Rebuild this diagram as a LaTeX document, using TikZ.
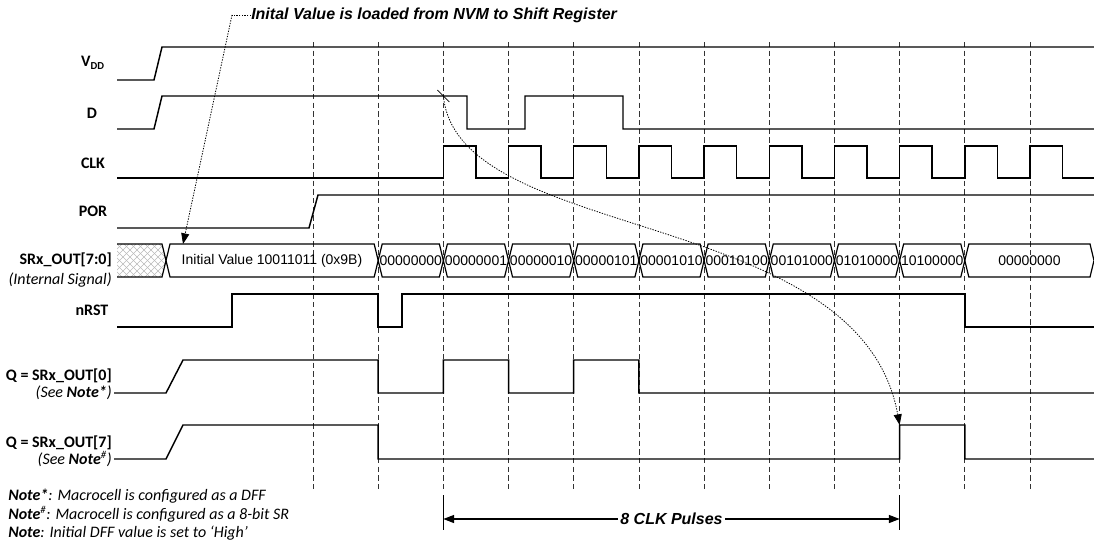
\documentclass[tikz,border=0pt]{standalone}
\usepackage{fontspec}
\setmainfont{Carlito}
\newfontfamily\arialfont{Liberation Sans}
\usetikzlibrary{arrows.meta}

\newcommand\twelve{\fontsize{12}{14}\selectfont}

\tikzset{
  wave/.style={line width=1.1pt},
  gridline/.style={line width=0.55pt, black!80, dash pattern=on 4pt off 2.5pt},
  bus/.style={line width=0.9pt},
  hatch/.style={line width=0.5pt, gray!55},
  lbl/.style={font=\twelve\bfseries, inner sep=0pt},
  sublbl/.style={font=\twelve\itshape, inner sep=0pt},
  busval/.style={font=\arialfont\fontsize{10.5}{12}\selectfont, inner sep=0pt},
  headline/.style={font=\arialfont\twelve\bfseries\itshape, inner sep=0pt},
  notetext/.style={font=\twelve\itshape, inner sep=0pt, anchor=west},
  leader/.style={line width=0.6pt, dash pattern=on 1pt off 1pt},
  dimline/.style={line width=0.8pt},
}

\begin{document}
\begin{tikzpicture}[x=0.75pt, y=-0.75pt, line join=miter,
    >={Triangle[length=8pt,width=6pt]}]
  \def\xo{313} \def\T{65.18}
  \def\bt{244} \def\bb{277} \def\bm{260.5}
  \useasboundingbox (0,0) rectangle (1094,546);

  % clock grid
  \foreach \k in {0,...,11}
    \draw[gridline] ({\xo+\T*\k},42) -- ({\xo+\T*\k},490);

  % signal names
  \node[lbl] (vdd) at (93,63) {V\textsubscript{DD}};
  \node[lbl] (d) at (92,113) {D};
  \node[lbl] (clk) at (93,163) {CLK};
  \node[lbl] (por) at (93,211) {POR};
  \node[lbl, anchor=east] (srx) at (112,260) {SRx\_OUT[7:0]};
  \node[sublbl, anchor=east] (internal) at (112,280) {(Internal Signal)};
  \node[lbl] (nrst) at (92,310) {nRST};
  \node[lbl, anchor=east] (qa) at (112,376) {Q = SRx\_OUT[0]};
  \node[sublbl, anchor=east] (qanote) at (112,393) {(See \textbf{Note*})};
  \node[lbl, anchor=east] (qb) at (112,443) {Q = SRx\_OUT[7]};
  \node[sublbl, anchor=east] (qbnote) at (112,459) {(See \textbf{Note}\textsuperscript{\#})};

  % waveforms
  \draw[wave] (117,80) -- (154,80) -- (162,47) -- (1094,47);
  \draw[wave] (117,129) -- (154,129) -- (162,96) -- (467,96) -- (467,129) -- (525,129)
    -- (525,96) -- (623,96) -- (623,129) -- (1094,129);
  \draw[wave] (117,178) \foreach \k in {2,...,11}{
      -- ({\xo+\T*\k},178) -- ({\xo+\T*\k},146) -- ({\xo+\T*\k+\T/2},146) -- ({\xo+\T*\k+\T/2},178)}
    -- (1094,178);
  \draw[wave] (117,228) -- (309,228) -- (318,195) -- (1094,195);
  \draw[wave] (117,327) -- (232,327) -- (232,294) -- ({\xo+\T},294) -- ({\xo+\T},327) -- (402,327)
    -- (402,294) -- ({\xo+\T*10},294) -- ({\xo+\T*10},327) -- (1094,327);
  \draw[wave] (114,393) -- (166,393) -- (183,360) -- ({\xo+\T},360) -- ({\xo+\T},393)
    -- ({\xo+\T*2},393) -- ({\xo+\T*2},360) -- ({\xo+\T*3},360) -- ({\xo+\T*3},393)
    -- ({\xo+\T*4},393) -- ({\xo+\T*4},360) -- ({\xo+\T*5},360) -- ({\xo+\T*5},393) -- (1094,393);
  \draw[wave] (114,459) -- (166,459) -- (183,425) -- ({\xo+\T},425) -- ({\xo+\T},459)
    -- ({\xo+\T*9},459) -- ({\xo+\T*9},425) -- ({\xo+\T*10},425) -- ({\xo+\T*10},459) -- (1094,459);

  % bus: unknown part
  \begin{scope}
    \clip (117,\bt) -- (162,\bt) -- (166,\bm) -- (162,\bb) -- (117,\bb) -- cycle;
    \foreach \s in {-35,-28,...,56} {
      \draw[hatch] ({117+\s},\bb) -- ++(33,-33);
      \draw[hatch] ({117+\s},\bt) -- ++(33,33);
    }
  \end{scope}
  \draw[bus] (117,\bt) -- (162,\bt) -- (166,\bm) -- (162,\bb) -- (117,\bb);
  % bus: loaded value and shifted values
  \draw[bus] (166,\bm) -- (170,\bt) -- ({\xo+\T-4},\bt) -- ({\xo+\T},\bm) -- ({\xo+\T-4},\bb) -- (170,\bb) -- cycle;
  \node[busval] (ival) at (272,\bm) {Initial Value 10011011 (0x9B)};
  \foreach \v [count=\k] in {00000000,00000001,00000010,00000101,00001010,00010100,00101000,01010000,10100000} {
    \pgfmathsetmacro\xa{\xo+\T*\k}
    \pgfmathsetmacro\xb{\xo+\T*(\k+1)}
    \draw[bus] (\xa,\bm) -- ({\xa+4},\bt) -- ({\xb-4},\bt) -- (\xb,\bm) -- ({\xb-4},\bb) -- ({\xa+4},\bb) -- cycle;
    \node[busval] (val\k) at ({(\xa+\xb)/2},\bm) {\v};
  }
  \draw[bus] ({\xo+\T*10},\bm) -- ({\xo+\T*10+4},\bt) -- (1090,\bt) -- (1094,\bm) -- (1090,\bb)
    -- ({\xo+\T*10+4},\bb) -- cycle;
  \node[busval] (val10) at ({(\xo+\T*10+1094)/2},\bm) {00000000};

  % NVM load annotation
  \node[headline, anchor=west] (nvm) at (251,15) {Inital Value is loaded from NVM to Shift Register};
  \coordinate (bend) at (232,15);
  \coordinate (ivtop) at (183,\bt);
  \draw[leader] (nvm.west) -- (bend);
  \draw[leader, ->] (bend) -- (ivtop);

  % first D bit shifted out to Q7
  \coordinate (dbit) at ({\xo+\T*2},96);
  \coordinate (qbrise) at ({\xo+\T*9},425);
  \draw[line width=0.5pt] ([shift={(-6,-6)}]dbit) -- ([shift={(6,6)}]dbit);
  \draw[leader, ->] (dbit) .. controls (458,245) and (860,205) .. (qbrise);

  % 8 clock pulses
  \coordinate (pa) at ({\xo+\T*2},519);
  \coordinate (pb) at ({\xo+\T*9},519);
  \draw[dimline] ([yshift=18pt]pa) -- ([yshift=-8pt]pa);
  \draw[dimline] ([yshift=18pt]pb) -- ([yshift=-8pt]pb);
  \draw[dimline, <->] (pa) -- (pb)
    node[midway, headline, fill=white, inner xsep=2pt] (pulses) {8 CLK Pulses};

  % notes
  \node[notetext] (notea) at (8,496) {\textbf{Note*}: Macrocell is configured as a DFF};
  \node[notetext] (noteb) at (8,514) {\textbf{Note}\textsuperscript{\#}: Macrocell is configured as a 8-bit SR};
  \node[notetext] (notec) at (8,533) {\textbf{Note}: Initial DFF value is set to ‘High’};
\end{tikzpicture}
\end{document}
